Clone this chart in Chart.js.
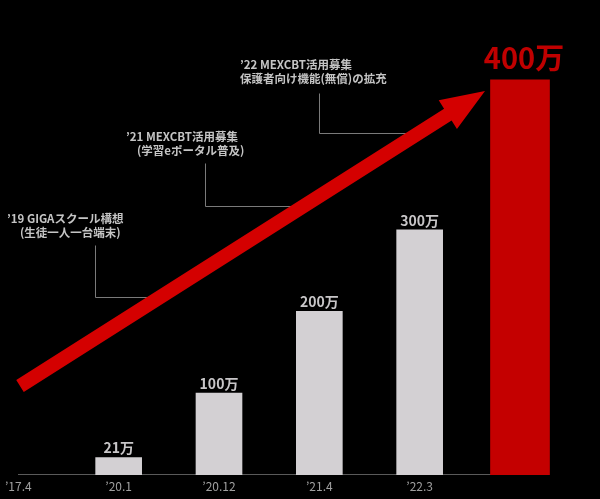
<!DOCTYPE html>
<html>
<head>
<meta charset="utf-8">
<script src="https://cdn.jsdelivr.net/npm/chart.js@4.4.1/dist/chart.umd.min.js"></script>
<style>
  html, body { margin: 0; padding: 0; background: #000; }
  #wrap { width: 600px; height: 499px; position: relative; }
</style>
</head>
<body>
<div id="wrap"><canvas id="grafico"></canvas></div>
<script>
// Dados
const categorias = ['’17.4', '’20.1', '’20.12', '’21.4', '’22.3', ''];
const usuarios = [null, 21, 100, 200, 300, null];      // 万
const meta = [null, null, null, null, null, 400];      // 万 (目標)
const notas = [
  ['’19 GIGAスクール構想', '(生徒一人一台端末)'],
  ['’21 MEXCBT活用募集', '(学習eポータル普及)'],
  ['’22 MEXCBT活用募集', '保護者向け機能(無償)の拡充']
];

const fonteJP = '"Noto Sans CJK JP", "Noto Sans", sans-serif';

// Fundo preto
const fundo = {
  id: 'fundo',
  beforeDraw(chart) {
    const c = chart.ctx;
    c.save();
    c.fillStyle = '#000';
    c.fillRect(0, 0, chart.width, chart.height);
    c.restore();
  }
};

// Notas com linhas de chamada + seta vermelha
const seta = {
  id: 'seta',
  afterDatasetsDraw(chart) {
    const c = chart.ctx;
    c.save();

    // textos e linhas das notas
    const pos = [
      { linhas: [[7, 219], [20, 233]], lider: [[95, 245], [95, 297], [158, 297]] },
      { linhas: [[126, 137], [137, 151]], lider: [[205, 163], [205, 206], [300, 206]] },
      { linhas: [[240, 65], [240, 79]], lider: [[319, 93], [319, 133], [415, 133]] }
    ];
    c.font = 'bold 11.5px ' + fonteJP;
    c.fillStyle = '#c4c4c4';
    c.textAlign = 'left';
    c.textBaseline = 'middle';
    notas.forEach((n, i) => {
      n.forEach((t, j) => c.fillText(t, pos[i].linhas[j][0], pos[i].linhas[j][1]));
      c.beginPath();
      c.strokeStyle = '#7a7a7a';
      c.lineWidth = 1;
      pos[i].lider.forEach((p, k) => k ? c.lineTo(p[0] + 0.5, p[1] + 0.5) : c.moveTo(p[0] + 0.5, p[1] + 0.5));
      c.stroke();
    });

    // seta
    const cauda = [20, 386], ponta = [485, 91];
    const dx = ponta[0] - cauda[0], dy = ponta[1] - cauda[1];
    const len = Math.hypot(dx, dy);
    const ux = dx / len, uy = dy / len, nx = -uy, ny = ux;
    const haste = 7, cabeca = 17, compCabeca = 44;
    const bx = ponta[0] - ux * compCabeca, by = ponta[1] - uy * compCabeca;
    c.beginPath();
    c.moveTo(cauda[0] + nx * haste, cauda[1] + ny * haste);
    c.lineTo(bx + nx * haste, by + ny * haste);
    c.lineTo(bx + nx * cabeca, by + ny * cabeca);
    c.lineTo(ponta[0], ponta[1]);
    c.lineTo(bx - nx * cabeca, by - ny * cabeca);
    c.lineTo(bx - nx * haste, by - ny * haste);
    c.lineTo(cauda[0] - nx * haste, cauda[1] - ny * haste);
    c.closePath();
    c.fillStyle = '#d40000';
    c.fill();

    c.restore();
  }
};

// Rótulos dos valores acima das barras
const rotulos = {
  id: 'rotulos',
  afterDatasetsDraw(chart) {
    const c = chart.ctx;
    c.save();
    c.textAlign = 'center';
    c.textBaseline = 'alphabetic';
    chart.data.datasets.forEach((ds, di) => {
      const m = chart.getDatasetMeta(di);
      m.data.forEach((el, i) => {
        const v = ds.data[i];
        if (v == null) return;
        if (di === 0) {
          c.font = 'bold 14px ' + fonteJP;
          c.fillStyle = '#c8c6c8';
          c.fillText(v + '万', el.x, el.y - 4);
        } else {
          c.font = 'bold 29px ' + fonteJP;
          c.fillStyle = '#c00000';
          c.fillText(v + '万', el.x + 4, el.y - 11);
        }
      });
    });
    c.restore();
  }
};

new Chart(document.getElementById('grafico').getContext('2d'), {
  type: 'bar',
  data: {
    labels: categorias,
    datasets: [
      { data: usuarios, yAxisID: 'y', backgroundColor: '#d3d0d3', barThickness: 46, grouped: false, clip: false },
      { data: meta, yAxisID: 'y2', backgroundColor: '#c40000', barThickness: 59, grouped: false, clip: false }
    ]
  },
  options: {
    responsive: true,
    maintainAspectRatio: false,
    animation: false,
    layout: { padding: { left: 12, right: 80, top: 60, bottom: 0 } },
    plugins: { legend: { display: false }, tooltip: { enabled: false } },
    scales: {
      x: {
        type: 'category',
        offset: false,
        grid: { display: false, drawTicks: false },
        border: { display: true, color: '#5a5a5a', width: 1 },
        ticks: { color: '#a0a0a0', font: { family: fonteJP, size: 12 }, padding: 5, maxRotation: 0, autoSkip: false }
      },
      y: { display: false, min: 0, max: 508 },
      y2: { display: false, min: 0, max: 420 }
    }
  },
  plugins: [fundo, seta, rotulos]
});
</script>
</body>
</html>
